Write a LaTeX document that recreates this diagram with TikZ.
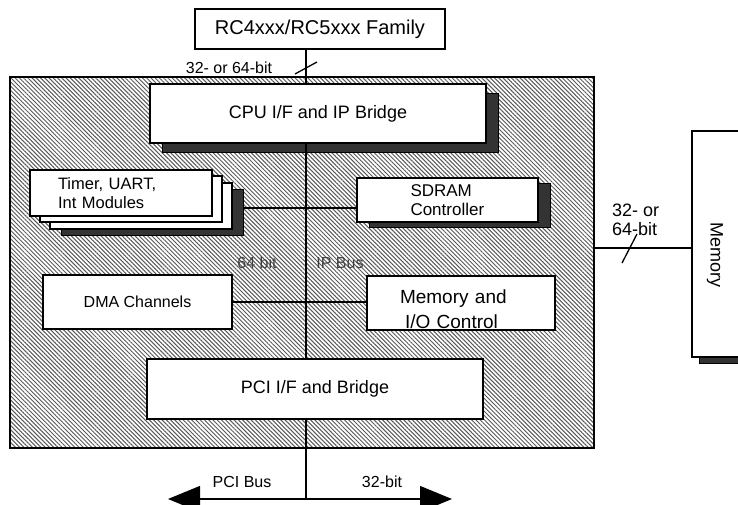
\documentclass[tikz,border=0pt]{standalone}
\usepackage{fontspec}
\setmainfont{Liberation Sans}
\usetikzlibrary{positioning, arrows.meta, patterns.meta}

\begin{document}
\begin{tikzpicture}[
  x=1pt, y=-1pt,
  blk/.style={draw, line width=1.6pt, fill=white, inner sep=0pt, align=center},
  shd/.style={draw=black, line width=0.8pt, fill=black!80, inner sep=0pt},
  bus/.style={line width=1.3pt},
  every node/.style={font=\fontsize{16}{19}\selectfont}
]
\useasboundingbox (0,0) rectangle (738,504);
\fill[white] (0,0) rectangle (738,504);

\node[draw, line width=1.3pt, inner sep=0pt,
  pattern={Lines[angle=-45,distance=3pt,line width=1pt]}, pattern color=black!65,
  minimum width=584pt, minimum height=371pt] (chip) at (302,262.5) {};

\node[blk, minimum width=250pt, minimum height=40pt, font=\fontsize{20}{24}\selectfont] (fam) at (320,29) {RC4xxx/RC5xxx Family};

\node[shd, minimum width=336pt, minimum height=59pt] (cpush) at (330,122.5) {};
\node[blk, minimum width=336pt, minimum height=59pt, font=\fontsize{18}{22}\selectfont] (cpu) at (318,113.5) {CPU I/F and IP Bridge};

\node[shd, minimum width=182pt, minimum height=46pt] (tmrsh) at (152,212) {};
\node[blk, minimum width=182pt, minimum height=46pt] (tmrc) at (141,206) {};
\node[blk, minimum width=182pt, minimum height=46pt] (tmrb) at (131,199) {};
\node[blk, minimum width=182pt, minimum height=46pt, text width=126pt, align=left,
  font=\fontsize{16.5}{19}\selectfont] (tmr) at (121,193) {Timer, UART,\\Int Modules};

\node[shd, minimum width=181pt, minimum height=44pt] (sdramsh) at (459.5,205) {};
\node[blk, minimum width=181pt, minimum height=44pt, text width=74pt, align=left,
  font=\fontsize{17}{19}\selectfont] (sdram) at (447.5,200) {SDRAM\\Controller};

\node[blk, minimum width=189pt, minimum height=54pt] (dma) at (137.5,302) {DMA Channels};

\node[blk, minimum width=188pt, minimum height=54pt] (mio) at (461,303) {};
\node[inner sep=0pt, text width=122pt, align=left, font=\fontsize{19}{25}\selectfont] (miotxt) at (461,309) {Memory and\\\hspace{5pt}I/O Control};

\node[blk, minimum width=336pt, minimum height=60pt, font=\fontsize{18}{22}\selectfont] (pci) at (315,389) {PCI I/F and Bridge};

\node[shd, minimum width=108pt, minimum height=226pt] (memsh) at (753,250) {};
\node[blk, minimum width=108pt, minimum height=226pt] (mem) at (746,244) {};
\node[rotate=-90, inner sep=0pt, font=\fontsize{18}{22}\selectfont] (memtxt) at (715,255) {Memory};

\coordinate (busx) at (306,0);
\coordinate (tsy) at (0,208);
\coordinate (my) at (0,248);
\coordinate (arl) at (168,499);
\coordinate (arr) at (452,499);
\coordinate (s1) at (306,68);
\coordinate (s2) at (629.5,248.5);

\draw[bus] (fam.south -| busx) -- (cpu.north -| busx);
\draw[bus] (cpu.south -| busx) -- (pci.north -| busx);
\draw[bus] (pci.south -| busx) -- (busx |- arl);
\draw[bus] (tmrsh.east |- tsy) -- (sdram.west |- tsy);
\draw[bus] (dma.east) -- (mio.west |- dma.east);
\draw[bus] (chip.east |- my) -- (mem.west |- my);
\draw[bus, {Triangle[length=32pt,width=26pt]}-{Triangle[length=32pt,width=26pt]}] (arl) -- (arr);

\draw[bus] ([shift={(-11,6)}]s1) -- ([shift={(11,-6)}]s1);
\draw[bus] ([shift={(-7.5,14.5)}]s2) -- ([shift={(7.5,-14.5)}]s2);

\node (toplbl) at (229,68) {32- or 64-bit};
\node[align=left, inner sep=0pt, anchor=west, font=\fontsize{18}{19}\selectfont] (memlbl) at (612,220) {32- or\\64-bit};
\node[text=black!75] (buslbl1) at (257,263) {64 bit};
\node[text=black!75] (buslbl2) at (340,263) {IP Bus};
\node (pcilbl) at (242,482) {PCI Bus};
\node (widlbl) at (382,482) {32-bit};
\end{tikzpicture}
\end{document}
